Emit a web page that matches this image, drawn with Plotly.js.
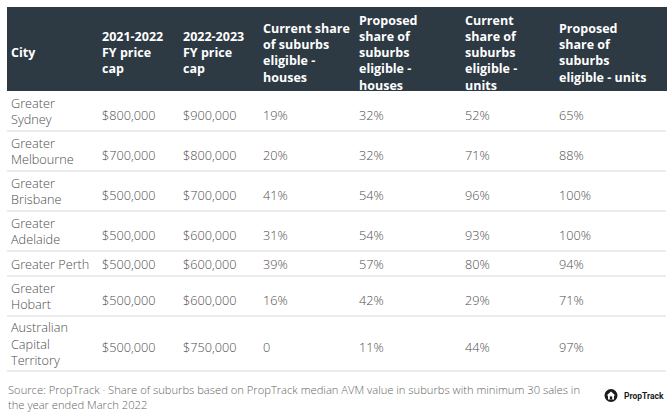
<!DOCTYPE html>
<html>
<head>
<meta charset="utf-8">
<script src="https://cdn.plot.ly/plotly-3.0.1.min.js"></script>
<style>
html, body { margin: 0; padding: 0; background: #ffffff; }
#chart { width: 672px; height: 419px; }
</style>
</head>
<body>
<div id="chart"></div>
<script>
// ---- data ----
const headers = [
  "City",
  "2021-2022<br>FY price<br>cap",
  "2022-2023<br>FY price<br>cap",
  "Current share<br>of suburbs<br>eligible -<br>houses",
  "Proposed<br>share of<br>suburbs<br>eligible -<br>houses",
  "Current<br>share of<br>suburbs<br>eligible -<br>units",
  "Proposed<br>share of<br>suburbs<br>eligible - units"
];
const cities = [
  "Greater<br>Sydney",
  "Greater<br>Melbourne",
  "Greater<br>Brisbane",
  "Greater<br>Adelaide",
  "Greater Perth",
  "Greater<br>Hobart",
  "Australian<br>Capital<br>Territory"
];
const priceCap2122 = [800000, 700000, 500000, 500000, 500000, 500000, 500000];
const priceCap2223 = [900000, 800000, 700000, 600000, 600000, 600000, 750000];
const currentHouses = [19, 20, 41, 31, 39, 16, 0];
const proposedHouses = [32, 32, 54, 54, 57, 42, 11];
const currentUnits = [52, 71, 96, 93, 80, 29, 44];
const proposedUnits = [65, 88, 100, 100, 94, 71, 97];
const sourceNote = "Source: PropTrack · Share of suburbs based on PropTrack median AVM value in suburbs with minimum 30 sales in<br>the year ended March 2022";

// ---- layout / style ----
const W = 672, H = 419;
const tableLeft = 7, tableRight = 666, tableTop = 7, headerH = 84;
const colWidths = [90, 81, 80, 96, 106, 94, 113];
const textPad = 5;
const rowPad = 10, rowLineH = 15;
const headerShift = 3.5, bias = 1.5, loneShift = 4;
const headerColor = "#2d3943";
const bodyColor = "#4d4d4d";
const ruleColor = "#d9d9d9";
const fontSize = 12.7;

const money = v => "$" + v.toLocaleString("en-US");
const pct = v => (v === 0 ? "0" : v + "%");
const columns = [
  cities,
  priceCap2122.map(money),
  priceCap2223.map(money),
  currentHouses.map(pct),
  proposedHouses.map(pct),
  currentUnits.map(pct),
  proposedUnits.map(pct)
];

const colLefts = [];
let acc = tableLeft;
colWidths.forEach(w => { colLefts.push(acc); acc += w; });
const textX = colLefts.map((l, i) => l + (i === 0 ? textPad - 1 : textPad));

const lineCount = s => String(s).split("<br>").length;
const rowLines = cities.map((c, i) => Math.max(...columns.map(col => lineCount(col[i]))));
const rowHeights = rowLines.map(n => rowPad + rowLineH * n);
const rowTops = [];
let yy = tableTop + headerH;
rowHeights.forEach(h => { rowTops.push(yy); yy += h; });
const rowCenters = rowTops.map((t, i) => t + rowHeights[i] / 2);
const rowBottoms = rowTops.map((t, i) => t + rowHeights[i]);

const traces = [];
// header row
traces.push({
  type: "scatter", mode: "text",
  x: textX, y: headers.map(() => tableTop + headerH / 2 + headerShift + bias),
  text: headers, textposition: "middle right",
  textfont: { family: "Open Sans", size: 12.5, color: "#ffffff", weight: 700 },
  hoverinfo: "skip", cliponaxis: false, showlegend: false
});
// body columns
columns.forEach((col, j) => {
  traces.push({
    type: "scatter", mode: "text",
    x: col.map(() => textX[j]),
    y: col.map((v, i) => rowCenters[i] + bias +
      ((lineCount(v) === 1 && rowLines[i] > 1) ? loneShift : 0.5)),
    text: col, textposition: "middle right",
    textfont: { family: "Open Sans", size: fontSize, color: bodyColor, weight: 300 },
    hoverinfo: "skip", cliponaxis: false, showlegend: false
  });
});

const shapes = [
  { type: "rect", xref: "x", yref: "y", x0: tableLeft, x1: tableRight + 1,
    y0: tableTop, y1: tableTop + headerH, fillcolor: headerColor,
    line: { width: 0 }, layer: "below" }
];
rowBottoms.forEach(b => {
  shapes.push({ type: "line", xref: "x", yref: "y", x0: tableLeft, x1: tableRight,
    y0: b, y1: b, line: { color: ruleColor, width: 1 }, layer: "below" });
});
// logo
shapes.push({ type: "circle", xref: "x", yref: "y", x0: 604.5, x1: 617.5, y0: 389, y1: 402,
  fillcolor: "#1b1b1b", line: { width: 0 } });
shapes.push({ type: "path", xref: "x", yref: "y",
  path: "M606.6,395.6 L611,391.4 L615.4,395.6 L614,395.6 L614,399.4 L608,399.4 L608,395.6 Z",
  fillcolor: "#ffffff", line: { width: 0 } });
shapes.push({ type: "rect", xref: "x", yref: "y", x0: 609.8, x1: 612.2, y0: 396.4, y1: 399.4,
  fillcolor: "#1b1b1b", line: { width: 0 } });

const annotations = [
  { xref: "x", yref: "y", x: tableLeft - 1, y: 397, xanchor: "left", yanchor: "middle",
    align: "left", showarrow: false, text: sourceNote,
    font: { family: "Open Sans", size: 11.2, color: "#666666", weight: 300 } },
  { xref: "x", yref: "y", x: 622, y: 395.5, xanchor: "left", yanchor: "middle",
    showarrow: false, text: "PropTrack",
    font: { family: "Roboto", size: 8.5, color: "#1b1b1b", weight: 700 } }
];

const layout = {
  width: W, height: H,
  margin: { l: 0, r: 0, t: 0, b: 0, pad: 0 },
  paper_bgcolor: "#ffffff", plot_bgcolor: "#ffffff",
  xaxis: { range: [0, W], visible: false, fixedrange: true },
  yaxis: { range: [H, 0], visible: false, fixedrange: true },
  shapes: shapes, annotations: annotations,
  showlegend: false, hovermode: false
};

Plotly.newPlot("chart", traces, layout, { displayModeBar: false, staticPlot: true });
</script>
</body>
</html>
